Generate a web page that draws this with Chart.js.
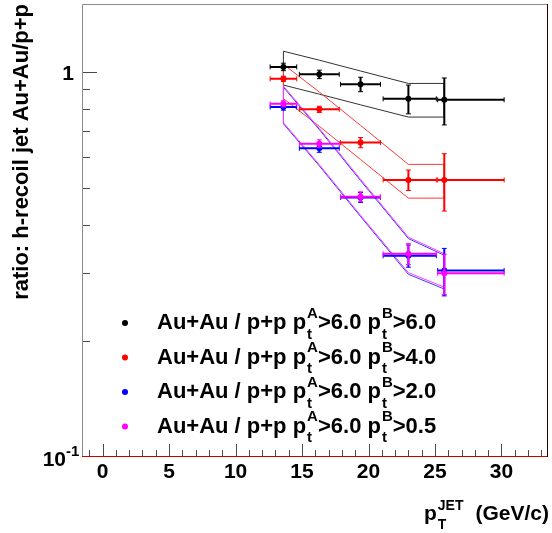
<!DOCTYPE html>
<html>
<head>
<meta charset="utf-8">
<script src="https://cdn.jsdelivr.net/npm/chart.js@4.4.0/dist/chart.umd.min.js"></script>
<style>
  html, body { margin: 0; padding: 0; background: #fff; }
  #wrap { width: 552px; height: 533px; position: relative; }
</style>
</head>
<body>
<div id="wrap"><canvas id="ratioChart"></canvas></div>
<script>
// jet pT bins (GeV/c): bin centres and edges
const ptJet  = [13.6, 16.3, 19.4, 23.0, 25.7];
const ptLow  = [12.6, 14.8, 17.9, 21.1, 25.2];
const ptHigh = [14.6, 17.8, 20.9, 25.1, 30.2];

// Au+Au / p+p, pt^A > 6.0, pt^B > 6.0
const ratioB60 = [1.03, 0.985, 0.928, 0.851, 0.846];
const errB60   = [0.023, 0.025, 0.040, 0.073, 0.118];
const sysHiB60 = [1.131, 1.072, 1.005, 0.933, 0.933];
const sysLoB60 = [0.924, 0.875, 0.821, 0.763, 0.763];

// pt^B > 4.0
const ratioB40 = [0.959, 0.799, 0.655, 0.524, 0.524];
const errB40   = [0.015, 0.015, 0.020, 0.032, 0.089];
const sysHiB40 = [1.046, 0.886, 0.726, 0.575, 0.575];
const sysLoB40 = [0.852, 0.722, 0.592, 0.470, 0.470];

// pt^B > 2.0
const ratioB20 = [0.810, 0.633, 0.472, 0.333, 0.305];
const errB20   = [0.015, 0.015, 0.014, 0.022, 0.043];
const sysHiB20 = [0.912, 0.708, 0.522, 0.369, 0.334];
const sysLoB20 = [0.733, 0.570, 0.421, 0.298, 0.273];

// pt^B > 0.5
const ratioB05 = [0.826, 0.651, 0.474, 0.337, 0.300];
const errB05   = [0.015, 0.015, 0.014, 0.021, 0.036];
const sysHiB05 = [0.918, 0.713, 0.526, 0.372, 0.337];
const sysLoB05 = [0.738, 0.574, 0.424, 0.301, 0.276];

const ptBCuts = ['6.0', '4.0', '2.0', '0.5'];

const FONT = '"Liberation Sans", Arial, Helvetica, sans-serif';

function points(ys) {
  return ptJet.map((x, i) => ({ x: x, y: ys[i] }));
}

// closed outline: upper edge left->right, lower edge right->left, back to start
function band(hi, lo) {
  const pts = points(hi);
  for (let i = ptJet.length - 1; i >= 0; i--) pts.push({ x: ptJet[i], y: lo[i] });
  pts.push({ x: ptJet[0], y: hi[0] });
  return pts;
}

const series = [
  { color: '#000000', band: '#333333', y: ratioB60, err: errB60, hi: sysHiB60, lo: sysLoB60 },
  { color: '#ff0000', band: '#ff3a3a', y: ratioB40, err: errB40, hi: sysHiB40, lo: sysLoB40 },
  { color: '#0000ff', band: '#3a3aff', y: ratioB20, err: errB20, hi: sysHiB20, lo: sysLoB20 },
  { color: '#ff00ff', band: '#ff3aff', y: ratioB05, err: errB05, hi: sysHiB05, lo: sysLoB05 }
];

const datasets = [];
series.forEach((s, k) => {
  datasets.push({
    data: band(s.hi, s.lo),
    showLine: true,
    borderColor: s.band,
    borderWidth: 1,
    pointRadius: 0,
    fill: false,
    tension: 0,
    order: 20 - k
  });
});
series.forEach((s, k) => {
  datasets.push({
    data: points(s.y),
    backgroundColor: s.color,
    borderColor: s.color,
    borderWidth: 0,
    pointRadius: 3,
    errY: s.err,
    order: 10 - k
  });
});

// error bars are drawn just before their own markers
const errorBars = {
  id: 'errorBars',
  beforeDatasetDraw(chart, args) {
    const ds = chart.data.datasets[args.index];
    if (!ds.errY) return;
    const xs = chart.scales.x, ys = chart.scales.y, ctx = chart.ctx;
    ctx.save();
    ctx.strokeStyle = ds.borderColor;
    ds.data.forEach((p, i) => {
      const px = xs.getPixelForValue(p.x), py = ys.getPixelForValue(p.y);
      const x0 = xs.getPixelForValue(ptLow[i]), x1 = xs.getPixelForValue(ptHigh[i]);
      const y0 = ys.getPixelForValue(p.y + ds.errY[i]), y1 = ys.getPixelForValue(p.y - ds.errY[i]);
      ctx.lineWidth = 2;
      ctx.beginPath();
      ctx.moveTo(x0, py); ctx.lineTo(x1, py);
      ctx.moveTo(px, y0); ctx.lineTo(px, y1);
      ctx.stroke();
      ctx.lineWidth = 1;
      ctx.beginPath();
      ctx.moveTo(x0, py - 2.5); ctx.lineTo(x0, py + 2.5);
      ctx.moveTo(x1, py - 2.5); ctx.lineTo(x1, py + 2.5);
      ctx.moveTo(px - 2.5, y0); ctx.lineTo(px + 2.5, y0);
      ctx.moveTo(px - 2.5, y1); ctx.lineTo(px + 2.5, y1);
      ctx.stroke();
    });
    ctx.restore();
  }
};

// superscript and subscript stacked after a symbol; returns the new x
function scripted(ctx, x, base, sup, sub, size) {
  ctx.font = 'bold ' + size + 'px ' + FONT;
  ctx.fillText(sup, x, base - size * 0.75);
  ctx.fillText(sub, x, base + size * 0.65);
  return x + Math.max(ctx.measureText(sup).width, ctx.measureText(sub).width);
}

const frame = {
  id: 'frame',
  afterDraw(chart) {
    const ctx = chart.ctx, a = chart.chartArea;
    const xs = chart.scales.x, ys = chart.scales.y;
    const left = Math.round(a.left), bottom = Math.round(a.bottom);
    const top = Math.round(a.top), right = Math.round(a.right);
    ctx.save();
    ctx.lineWidth = 1;

    // tick marks, drawn inward
    ctx.strokeStyle = '#4a4a4a';
    ctx.beginPath();
    for (let v = -1; v <= 33; v++) {
      const px = Math.round(xs.getPixelForValue(v)) + 0.5;
      const len = v % 5 === 0 ? 12 : 6;
      ctx.moveTo(px, bottom - 1); ctx.lineTo(px, bottom - 1 - len);
    }
    for (let v = 2; v <= 10; v++) {
      const py = Math.round(ys.getPixelForValue(v / 10)) + 0.5;
      const len = v === 10 ? 14 : 7;
      ctx.moveTo(left + 1, py); ctx.lineTo(left + 1 + len, py);
    }
    ctx.stroke();

    // frame
    ctx.strokeStyle = '#8c8c8c';
    ctx.beginPath();
    ctx.moveTo(left + 0.5, bottom); ctx.lineTo(left + 0.5, top + 0.5); ctx.lineTo(right, top + 0.5);
    ctx.stroke();
    ctx.strokeStyle = '#d00000';
    ctx.beginPath();
    ctx.moveTo(left, bottom - 0.5); ctx.lineTo(right, bottom - 0.5);
    ctx.stroke();
    ctx.strokeStyle = '#300000';
    ctx.beginPath();
    ctx.moveTo(right - 0.5, top); ctx.lineTo(right - 0.5, bottom);
    ctx.stroke();

    // tick labels
    ctx.fillStyle = '#000';
    ctx.font = 'bold 21px ' + FONT;
    ctx.textAlign = 'center';
    ctx.textBaseline = 'alphabetic';
    for (let v = 0; v <= 30; v += 5) {
      ctx.fillText(String(v), xs.getPixelForValue(v), 478);
    }
    ctx.textAlign = 'right';
    ctx.fillText('1', left - 8, ys.getPixelForValue(1) + 8);
    ctx.fillText('10', 66, 466);
    ctx.font = 'bold 15px ' + FONT;
    ctx.textAlign = 'left';
    ctx.fillText('-1', 66, 456);

    // y title
    ctx.save();
    ctx.translate(28, 4);
    ctx.rotate(-Math.PI / 2);
    ctx.font = 'bold 22px ' + FONT;
    ctx.textAlign = 'right';
    ctx.fillText('ratio: h-recoil jet Au+Au/p+p', 0, 0);
    ctx.restore();

    // x title
    ctx.textAlign = 'left';
    ctx.font = 'bold 21px ' + FONT;
    let x = 424;
    ctx.fillText('p', x, 520);
    x += ctx.measureText('p').width + 1;
    scripted(ctx, x, 520, 'JET', 'T', 14);
    ctx.font = 'bold 21px ' + FONT;
    ctx.textAlign = 'right';
    ctx.fillText('(GeV/c)', 549, 520);

    // legend
    ctx.textAlign = 'left';
    series.forEach((s, k) => {
      const cy = 323 + k * 34.5;
      ctx.fillStyle = s.color;
      ctx.beginPath();
      ctx.arc(125, cy, 3, 0, Math.PI * 2);
      ctx.fill();
      ctx.fillStyle = '#000';
      const base = cy + 6;
      let tx = 157;
      ctx.font = 'bold 22px ' + FONT;
      ctx.fillText('Au+Au / p+p p', tx, base);
      tx += ctx.measureText('Au+Au / p+p p').width;
      tx = scripted(ctx, tx + 1, base, 'A', 't', 15);
      ctx.font = 'bold 22px ' + FONT;
      ctx.fillText('>6.0 p', tx, base);
      tx += ctx.measureText('>6.0 p').width;
      tx = scripted(ctx, tx + 1, base, 'B', 't', 15);
      ctx.font = 'bold 22px ' + FONT;
      ctx.fillText('>' + ptBCuts[k], tx, base);
    });
    ctx.restore();
  }
};

new Chart('ratioChart', {
  type: 'scatter',
  data: { datasets: datasets },
  options: {
    responsive: true,
    maintainAspectRatio: false,
    animation: false,
    layout: { padding: { left: 82, top: 2, right: 3, bottom: 76 } },
    scales: {
      x: { type: 'linear', min: -1.55, max: 33.5, display: false },
      y: { type: 'logarithmic', min: 0.1, max: 1.5, display: false }
    },
    plugins: {
      legend: { display: false },
      tooltip: { enabled: false }
    }
  },
  plugins: [errorBars, frame]
});
</script>
</body>
</html>
